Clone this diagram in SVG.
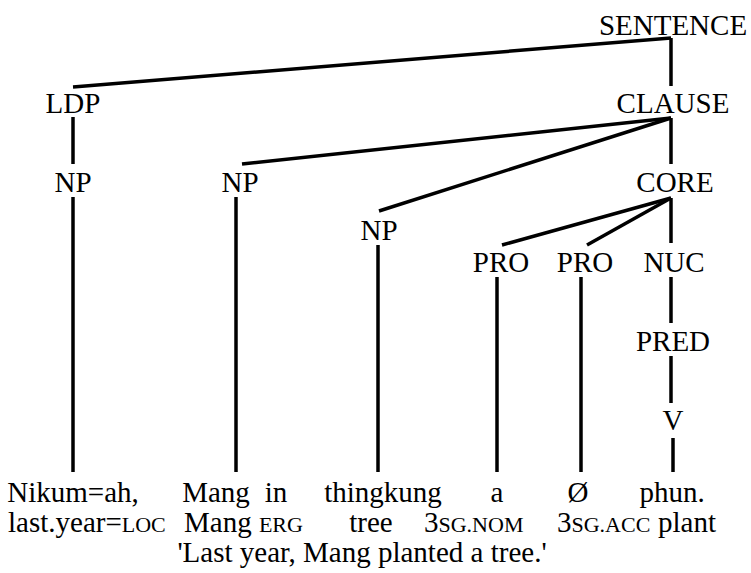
<svg xmlns="http://www.w3.org/2000/svg" width="751" height="573" viewBox="0 0 751 573">
<style>
text{font-family:"Liberation Serif","Times New Roman",serif;font-size:29px;fill:#000}
.m{text-anchor:middle}
.sc{font-size:22px}
line{stroke:#000;stroke-width:3.5;stroke-linecap:butt}
</style>
<rect width="751" height="573" fill="#fff"/>
<g id="connectors">
<line x1="73" y1="87" x2="671" y2="38"/>
<line x1="671" y1="38" x2="671" y2="86"/>
<line x1="73" y1="117" x2="73" y2="164"/>
<line x1="671" y1="118" x2="242" y2="164"/>
<line x1="671" y1="118" x2="379" y2="211"/>
<line x1="671" y1="118" x2="671" y2="164"/>
<line x1="671" y1="198" x2="502" y2="245"/>
<line x1="671" y1="198" x2="587" y2="245"/>
<line x1="671" y1="198" x2="671" y2="243"/>
<line x1="671" y1="277" x2="671" y2="323"/>
<line x1="671" y1="356" x2="671" y2="403"/>
<line x1="673" y1="438" x2="673" y2="472"/>
<line x1="73" y1="197" x2="73" y2="472"/>
<line x1="236" y1="197" x2="236" y2="472"/>
<line x1="378" y1="245" x2="378" y2="472"/>
<line x1="497" y1="277" x2="497" y2="472"/>
<line x1="581" y1="277" x2="581" y2="472"/>
</g>
<g id="sentence"><text class="m" x="673" y="35">SENTENCE</text></g>
<g id="ldp"><text class="m" x="73" y="113">LDP</text></g>
<g id="clause"><text class="m" x="673" y="113">CLAUSE</text></g>
<g id="np1"><text class="m" x="73" y="192">NP</text></g>
<g id="np2"><text class="m" x="240" y="192">NP</text></g>
<g id="core"><text class="m" x="675" y="192">CORE</text></g>
<g id="np3"><text class="m" x="379" y="240">NP</text></g>
<g id="pro1"><text class="m" x="501" y="272">PRO</text></g>
<g id="pro2"><text class="m" x="585" y="272">PRO</text></g>
<g id="nuc"><text class="m" x="674" y="272">NUC</text></g>
<g id="pred"><text class="m" x="673" y="351">PRED</text></g>
<g id="v"><text class="m" x="673" y="430">V</text></g>
<g id="words">
<text class="m" x="73" y="502">Nikum=ah,</text>
<text class="m" x="216" y="502">Mang</text>
<text class="m" x="276" y="502">in</text>
<text class="m" x="383" y="502">thingkung</text>
<text class="m" x="497" y="502">a</text>
<text class="m" x="578" y="502">Ø</text>
<text class="m" x="672" y="502">phun.</text>
</g>
<g id="gloss">
<text x="8" y="532">last.year=<tspan class="sc">LOC</tspan></text>
<text x="184" y="532">Mang <tspan class="sc">ERG</tspan></text>
<text class="m" x="371" y="532">tree</text>
<text x="424" y="532">3<tspan class="sc">SG.NOM</tspan></text>
<text x="557" y="532">3<tspan class="sc">SG.ACC</tspan></text>
<text x="658" y="532">plant</text>
</g>
<g id="translation"><text class="m" x="362" y="562">'Last year, Mang planted a tree.'</text></g>
</svg>
